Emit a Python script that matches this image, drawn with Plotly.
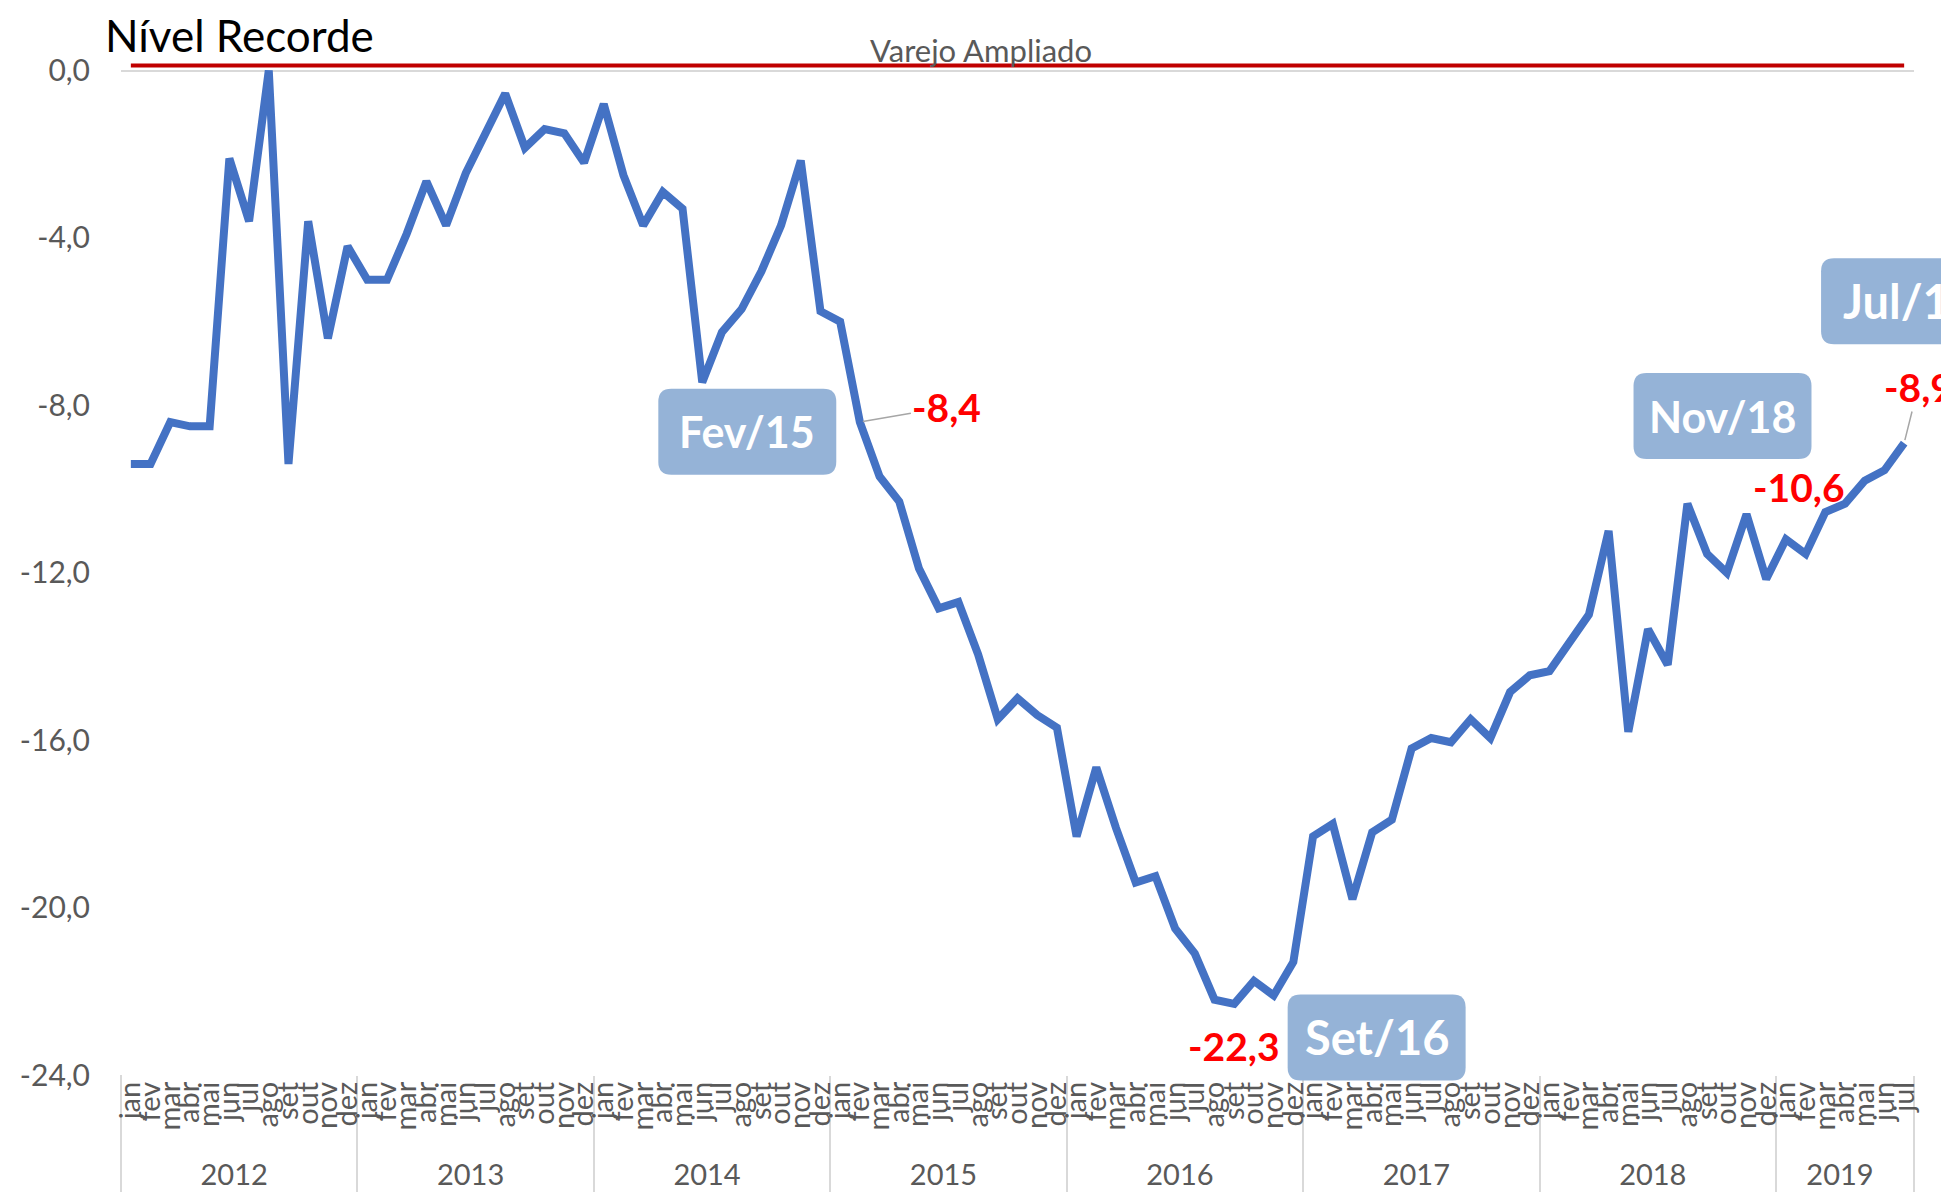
import plotly.graph_objects as go

# ---------------- data ----------------
meses = ["jan", "fev", "mar", "abr", "mai", "jun", "jul", "ago", "set", "out", "nov", "dez"]
anos = ["2012", "2013", "2014", "2015", "2016", "2017", "2018", "2019"]
meses_por_ano = [12, 12, 12, 12, 12, 12, 12, 7]

valores = [
    # 2012
    -9.4, -9.4, -8.4, -8.5, -8.5, -2.1, -3.6, 0.0, -9.4, -3.6, -6.4, -4.2,
    # 2013
    -5.0, -5.0, -3.9, -2.65, -3.7, -2.45, -1.5, -0.55, -1.85, -1.4, -1.5, -2.2,
    # 2014
    -0.8, -2.5, -3.7, -2.9, -3.3, -7.45, -6.25, -5.7, -4.8, -3.7, -2.15, -5.75,
    # 2015
    -6.0, -8.4, -9.7, -10.3, -11.9, -12.85, -12.7, -13.95, -15.5, -15.0, -15.4, -15.7,
    # 2016
    -18.3, -16.65, -18.1, -19.4, -19.25, -20.5, -21.1, -22.2, -22.3, -21.75, -22.1, -21.3,
    # 2017
    -18.3, -18.0, -19.8, -18.2, -17.9, -16.2, -15.95, -16.05, -15.5, -15.95, -14.85, -14.45,
    # 2018
    -14.35, -13.7, -13.0, -11.0, -15.8, -13.35, -14.2, -10.35, -11.55, -12.0, -10.6, -12.15,
    # 2019
    -11.2, -11.55, -10.55, -10.35, -9.8, -9.55, -8.9,
]

nivel_recorde = 0.12

# highlighted months (index into valores) and box labels
pontos_rotulados = [37, 56, 82, 90]
caixas = ["Fev/15", "Set/16", "Nov/18", "Jul/19"]

y_ticks = [0, -4, -8, -12, -16, -20, -24]

# ---------------- build categories ----------------
x_ano, x_mes = [], []
for a, n in zip(anos, meses_por_ano):
    for m in meses[:n]:
        x_ano.append(a)
        x_mes.append(m)
n_pts = len(valores)


def fmt(v):
    return f"{v:.1f}".replace(".", ",")


FONT = "Lato"
GRAY = "#595959"

fig = go.Figure()
fig.add_trace(go.Scatter(
    x=[x_ano, x_mes], y=[nivel_recorde] * n_pts, mode="lines",
    line=dict(color="#C00000", width=4), hoverinfo="skip", showlegend=False))
fig.add_trace(go.Scatter(
    x=[x_ano, x_mes], y=valores, mode="lines",
    line=dict(color="#4472C4", width=8), showlegend=False))

annotations = []
# value labels (red)
label_cfg = {
    37: dict(showarrow=True, ax=87, ay=-15),
    56: dict(showarrow=False, xshift=0, yshift=-42),
    82: dict(showarrow=False, xshift=52, yshift=27),
    90: dict(showarrow=True, ax=14, ay=-56),
}
for i in pontos_rotulados:
    cfg = label_cfg[i]
    annotations.append(dict(
        x=i, y=valores[i], xref="x", yref="y", text="<b>" + fmt(valores[i]) + "</b>",
        font=dict(family=FONT, size=39, color="#FF0000"),
        arrowhead=0, arrowcolor="#A6A6A6", arrowwidth=1.5, standoff=3,
        **cfg))

# boxes (rounded rectangles as shapes + text)
box_pos = {
    "Fev/15": (0.3493, 0.6325, 43),
    "Set/16": (0.7003, 0.0369, 47),
    "Nov/18": (0.8932, 0.6479, 43),
    "Jul/19": (0.9978, 0.7609, 47),
}
PLOT_W, PLOT_H = 1793.4, 1016.55
BOX_W, BOX_H, R = 178, 86, 13
shapes = []
for t in caixas:
    px, py, fs = box_pos[t]
    # rounded rect path in paper coordinates
    hw, hh = BOX_W / 2 / PLOT_W, BOX_H / 2 / PLOT_H
    rx, ry = R / PLOT_W, R / PLOT_H
    x0, x1, y0, y1 = px - hw, px + hw, py - hh, py + hh
    path = (f"M {x0 + rx} {y0} L {x1 - rx} {y0} Q {x1} {y0} {x1} {y0 + ry} "
            f"L {x1} {y1 - ry} Q {x1} {y1} {x1 - rx} {y1} "
            f"L {x0 + rx} {y1} Q {x0} {y1} {x0} {y1 - ry} "
            f"L {x0} {y0 + ry} Q {x0} {y0} {x0 + rx} {y0} Z")
    shapes.append(dict(type="path", path=path, xref="paper", yref="paper",
                       fillcolor="#95B3D7", line=dict(width=0), layer="above"))
    annotations.append(dict(
        x=px, y=py, xref="paper", yref="paper", text="<b>" + t + "</b>", showarrow=False,
        xanchor="center", yanchor="middle",
        font=dict(family=FONT, size=fs, color="white")))

annotations.append(dict(
    x=-0.0098, y=1.0231, xref="paper", yref="paper", text="Nível Recorde",
    showarrow=False, xanchor="left", yanchor="middle",
    font=dict(family=FONT, size=44, color="black")))

# left divider of the category axis
shapes.append(dict(type="line", xref="paper", yref="paper", x0=0, x1=0, y0=0, y1=-0.12,
                   line=dict(color="#D9D9D9", width=2), layer="below"))

fig.update_layout(
    width=1941, height=1184,
    paper_bgcolor="white", plot_bgcolor="white",
    margin=dict(l=113, r=35, t=50, b=117, autoexpand=False),
    separators=",.",
    title=dict(text="Varejo Ampliado", x=0.5013, xref="container", xanchor="center",
               y=1 - 43 / 1184, yref="container", yanchor="middle",
               font=dict(family=FONT, size=31, color=GRAY)),
    annotations=annotations,
    shapes=shapes,
    showlegend=False,
)
fig.update_xaxes(
    type="multicategory", range=[-0.5, n_pts - 0.5], tickmode="linear", tick0=0, dtick=1,
    showgrid=False, zeroline=False, showline=False,
    ticks="", tickangle=-90, showdividers=True, dividercolor="#D9D9D9", dividerwidth=2,
    tickfont=dict(family=FONT, size=29, color=GRAY), automargin=False)
fig.update_yaxes(
    range=[-24, 0.3], tickvals=y_ticks, ticktext=[fmt(v) for v in y_ticks],
    showgrid=False, zeroline=True, zerolinecolor="#D9D9D9", zerolinewidth=2, showline=False,
    ticks="", ticklabelstandoff=30,
    tickfont=dict(family=FONT, size=30, color=GRAY), automargin=False)

fig.write_html("out.html")
